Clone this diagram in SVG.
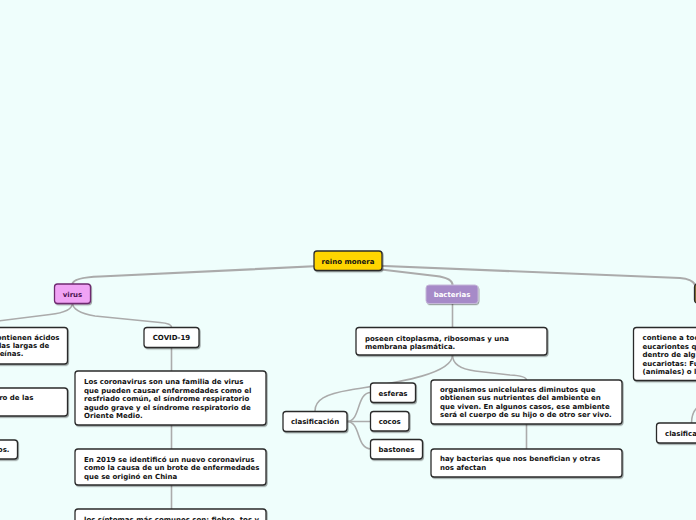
<svg xmlns="http://www.w3.org/2000/svg" width="696" height="520" viewBox="0 0 696 520">
<defs>
<filter id="sh" x="-10%" y="-20%" width="130%" height="160%">
<feDropShadow dx="1" dy="1.2" stdDeviation="0.7" flood-color="#000" flood-opacity="0.35"/>
</filter>
</defs>
<style>
.bg{fill:#effefc}
.c{fill:none;stroke:#ababab;stroke-width:1.6;stroke-linecap:round}
.cm{fill:none;stroke:#ababab;stroke-width:2.2;stroke-linecap:round}
.box{fill:#ffffff;stroke:#2a2a2a;stroke-width:1.3;filter:url(#sh)}
.t{font-family:"DejaVu Sans",Verdana,sans-serif;font-weight:bold;font-size:7px;fill:#111}
.m{text-anchor:middle}
.e{text-anchor:end}
</style>
<rect class="bg" x="0" y="0" width="696" height="520"/>

<g id="connectors">
<path class="cm" d="M 340 265 L 100 276.5 Q 73 277.5 72.5 284"/>
<path class="cm" d="M 360 265 L 680 278 Q 693 279 696 286"/>
<path class="cm" d="M 360 267 L 436 276 Q 452.5 278 452.5 285"/>
<path class="c" d="M 72.5 303 Q 72.5 312 50 314.5 L -10 322"/>
<path class="c" d="M 72.5 303 Q 72.5 312 95 316 L 160 322.5 Q 171.5 323.5 171.5 327"/>
<path class="c" d="M 171.5 347 L 171.5 371"/>
<path class="c" d="M 171.5 425 L 171.5 449"/>
<path class="c" d="M 171.5 485 L 171.5 509"/>
<path class="c" d="M 452.5 303 L 452.5 327"/>
<path class="c" d="M 452.5 355 C 452.5 376, 385 384, 350 390 C 325 394, 315 400, 315 411"/>
<path class="c" d="M 452.5 355 Q 452.5 368 475 371 L 510 375 Q 526.5 376 526.5 380"/>
<path class="c" d="M 526.5 424 L 526.5 449"/>
<path class="c" d="M 347 421.5 C 361 421.5, 356 392.5, 371 392.5"/>
<path class="c" d="M 347 421.5 L 371 421.5"/>
<path class="c" d="M 347 421.5 C 361 421.5, 356 449, 371 449"/>
<path class="c" d="M 700 405 Q 691.5 411 691.5 423"/>
</g>

<g id="reino-monera">
<rect x="314" y="251" width="68" height="19.5" rx="3" fill="#ffd500" stroke="#2a2a2a" stroke-width="1.3" filter="url(#sh)"/>
<text class="t m" x="348" y="263.5">reino monera</text>
</g>

<g id="virus">
<rect x="54.5" y="284" width="36" height="19.5" rx="3" fill="#f0a3f5" stroke="#6e2a70" stroke-width="1.3" filter="url(#sh)"/>
<text class="t m" x="72.5" y="296.7" style="fill:#4a1250">virus</text>
</g>

<g id="bacterias">
<rect x="426" y="285" width="52" height="18.5" rx="3" fill="#a68ac8" stroke="#c5b8d8" stroke-width="1" filter="url(#sh)"/>
<text class="t m" x="452" y="297" style="fill:#ffffff">bacterias</text>
</g>

<g id="right-node">
<rect x="694.5" y="284" width="40" height="19" rx="3" fill="#8a7432" stroke="#2a2a2a" stroke-width="1.3"/>
</g>

<g id="virus-acidos">
<rect class="box" x="-20" y="327.5" width="87.5" height="36.5" rx="3"/>
<text class="t e" x="59.5" y="339.5">ontienen ácidos</text>
<text class="t e" x="49.3" y="348">las largas de</text>
<text class="t e" x="23.3" y="356.3">eínas.</text>
</g>

<g id="virus-2">
<rect class="box" x="-20" y="388" width="87.5" height="28" rx="3"/>
<text class="t e" x="33.3" y="400">ro de las</text>
</g>

<g id="virus-3">
<rect class="box" x="-20" y="440" width="37.5" height="19" rx="3"/>
<text class="t e" x="9.5" y="452">os.</text>
</g>

<g id="covid">
<rect class="box" x="144" y="327.5" width="55" height="20" rx="3"/>
<text class="t m" x="171.5" y="340">COVID-19</text>
</g>

<g id="coronavirus">
<rect class="box" x="75" y="371" width="191" height="54" rx="3"/>
<text class="t" x="84" y="384">Los coronavirus son una familia de virus</text>
<text class="t" x="84" y="392.5">que pueden causar enfermedades como el</text>
<text class="t" x="84" y="401">resfriado común, el síndrome respiratorio</text>
<text class="t" x="84" y="409.5">agudo grave y el síndrome respiratorio de</text>
<text class="t" x="84" y="418">Oriente Medio.</text>
</g>

<g id="en-2019">
<rect class="box" x="75" y="449" width="191" height="36" rx="3"/>
<text class="t" x="84" y="461.5">En 2019 se identificó un nuevo coronavirus</text>
<text class="t" x="84" y="470">como la causa de un brote de enfermedades</text>
<text class="t" x="84" y="478.5">que se originó en China</text>
</g>

<g id="sintomas">
<rect class="box" x="75" y="509" width="191" height="40" rx="3"/>
<text class="t" x="84" y="521.5">los síntomas más comunes son: fiebre, tos y</text>
</g>

<g id="poseen">
<rect class="box" x="356" y="327.5" width="191" height="27.5" rx="3"/>
<text class="t" x="365" y="340.5">poseen citoplasma, ribosomas y una</text>
<text class="t" x="365" y="349">membrana plasmática.</text>
</g>

<g id="clasificacion">
<rect class="box" x="283" y="411.5" width="64" height="20" rx="3"/>
<text class="t m" x="315" y="424">clasificación</text>
</g>

<g id="esferas">
<rect class="box" x="370.5" y="383" width="45" height="19.5" rx="3"/>
<text class="t m" x="393" y="395.5">esferas</text>
</g>

<g id="cocos">
<rect class="box" x="370.5" y="411.5" width="38.5" height="19.5" rx="3"/>
<text class="t m" x="389.7" y="424">cocos</text>
</g>

<g id="bastones">
<rect class="box" x="370.5" y="439.5" width="52" height="19.5" rx="3"/>
<text class="t m" x="396.5" y="452">bastones</text>
</g>

<g id="organismos">
<rect class="box" x="431" y="380" width="191" height="44" rx="3"/>
<text class="t" x="440" y="391.5">organismos unicelulares diminutos que</text>
<text class="t" x="440" y="400">obtienen sus nutrientes del ambiente en</text>
<text class="t" x="440" y="408.5">que viven. En algunos casos, ese ambiente</text>
<text class="t" x="440" y="417">será el cuerpo de su hijo o de otro ser vivo.</text>
</g>

<g id="hay-bacterias">
<rect class="box" x="431" y="449" width="191" height="28" rx="3"/>
<text class="t" x="440" y="461">hay bacterias que nos benefician y otras</text>
<text class="t" x="440" y="469.5">nos afectan</text>
</g>

<g id="contiene">
<rect class="box" x="633.5" y="327.5" width="120" height="53" rx="3"/>
<text class="t" x="642.5" y="340">contiene a tod</text>
<text class="t" x="642.5" y="348.5">eucariontes q</text>
<text class="t" x="642.5" y="357">dentro de alg</text>
<text class="t" x="642.5" y="365.5">eucariotas: Fu</text>
<text class="t" x="642.5" y="374">(animales) o l</text>
</g>

<g id="clasifica-right">
<rect class="box" x="656.5" y="423" width="70" height="20" rx="3"/>
<text class="t" x="665" y="435.7">clasifica</text>
</g>
</svg>
